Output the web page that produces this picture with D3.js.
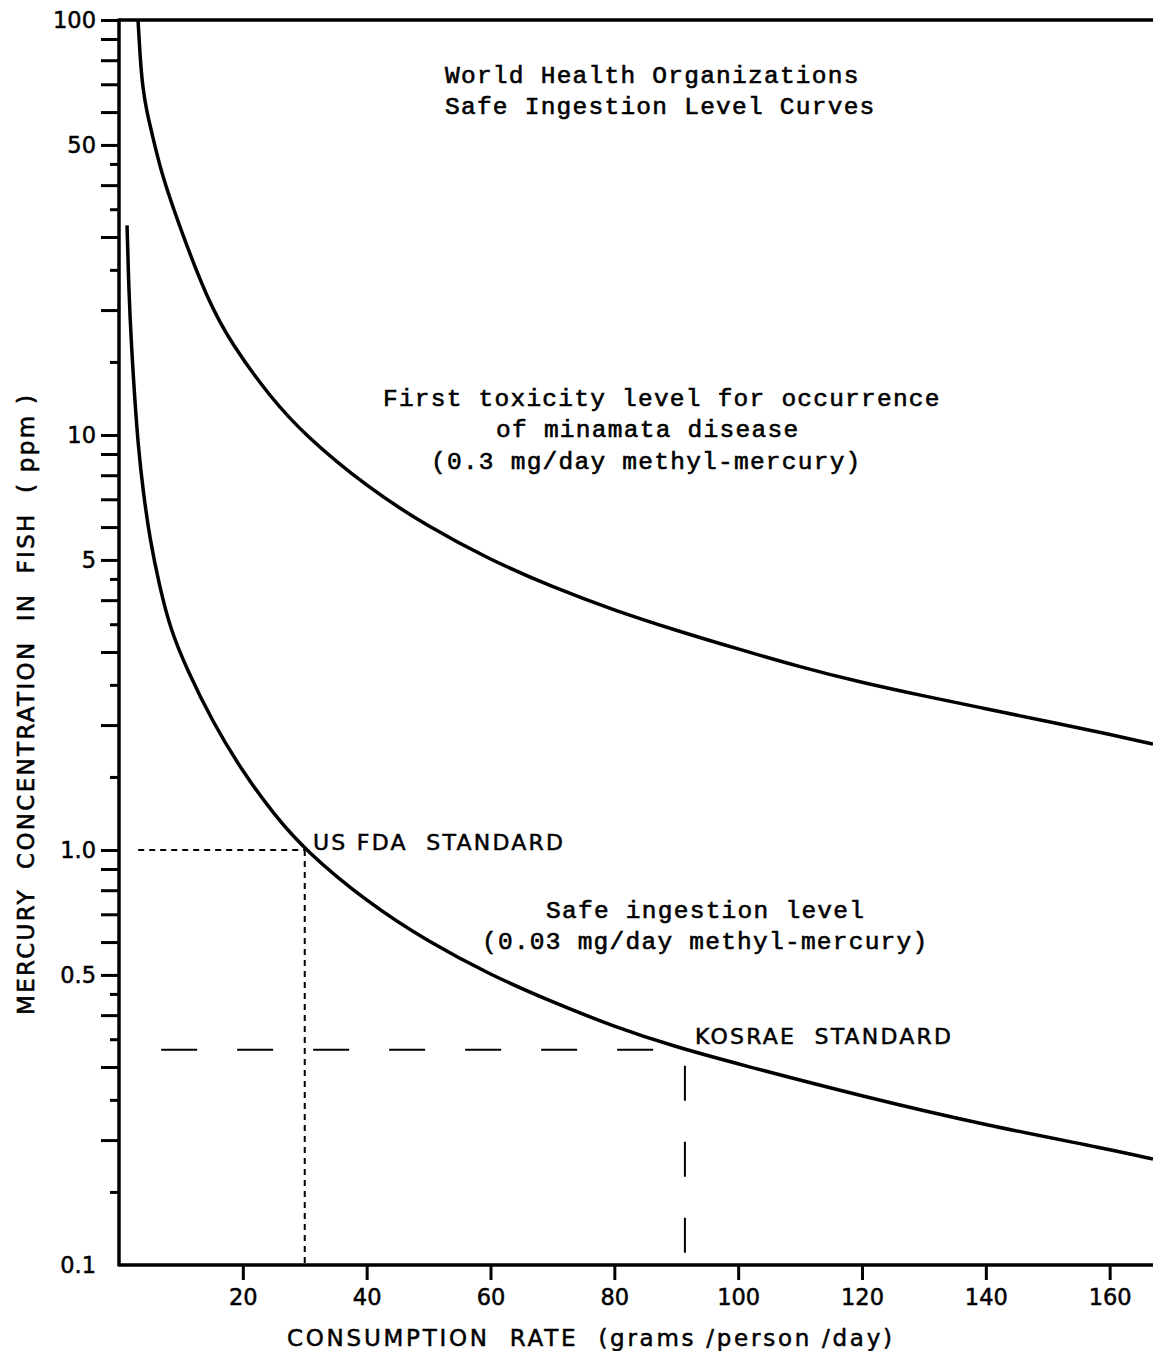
<!DOCTYPE html>
<html>
<head>
<meta charset="utf-8">
<script src="https://cdn.jsdelivr.net/npm/d3@7"></script>
<style>
  html, body { margin: 0; padding: 0; background: #fff; }
  svg { display: block; }
</style>
</head>
<body>
<svg id="chart" width="1153" height="1351"></svg>
<script>
// ---------------- DATA ----------------
// Consumption rate (grams/person/day)
const xTicks = [20, 40, 60, 80, 100, 120, 140, 160];
// Mercury concentration (ppm) — log axis
const yLabelTicks = [100, 50, 10, 5, 1.0, 0.5, 0.1];
const yLabelText = ["100", "50", "10", "5", "1.0", "0.5", "0.1"];
const yMajorTicks = [100, 90, 80, 70, 60, 50, 40, 30, 20,
                     10, 9, 8, 7, 6, 5, 4, 3, 2,
                     1, 0.9, 0.8, 0.7, 0.6, 0.5, 0.4, 0.3, 0.2];
const yMinorTicks = [45, 35, 25, 15, 4.5, 3.5, 2.5, 1.5, 0.45, 0.35, 0.25, 0.15];

// First toxicity level (0.3 mg/day methyl-mercury)
const toxRate = [3.07, 3.4, 3.8, 4.5, 5.3, 6.5, 7.7, 10.4, 14.2, 18, 24.5, 30, 40, 50, 60, 70, 80, 90, 100, 110, 120, 130, 140, 150, 160, 167];
const toxPpm  = [100, 82, 69, 60, 53.5, 45, 39.2, 30, 21.4, 16.7, 12.3, 10.0, 7.5, 6.0, 5.0, 4.3, 3.78, 3.38, 3.05, 2.76, 2.53, 2.35, 2.19, 2.04, 1.9, 1.8];

// Safe ingestion level (0.03 mg/day methyl-mercury)
const safeRate = [1.3, 1.6, 2.0, 2.5, 3.1, 3.9, 5.0, 6.5, 8.3, 11, 15, 20, 25, 30, 40, 50, 60, 70, 80, 90, 100, 120, 140, 160, 167];
const safePpm  = [32, 22, 16.5, 12.5, 9.4, 7.3, 5.6, 4.35, 3.4, 2.72, 2.05, 1.54, 1.22, 1.0, 0.75, 0.6, 0.5, 0.43, 0.375, 0.335, 0.305, 0.255, 0.217, 0.19, 0.18];

// Reference standards
const fdaStd = [30, 1.0];            // rate, ppm
const fdaFromRate = 3.1;             // start of horizontal dotted guide
const kosraeStd = [91.4, 0.33];      // rate, ppm
const kosraeHRange = [6.8, 86.3];    // horizontal dashed guide extent (rate)
const kosraeVRange = [0.302, 0.107]; // vertical dashed guide extent (ppm)

// ---------------- SCALES ----------------
const svg = d3.select("#chart");
const x = d3.scaleLinear().domain([0, 167]).range([119, 1153]);
const y = d3.scaleLog().domain([0.1, 100]).range([1265, 20]);

const sans = "'DejaVu Sans', sans-serif";
const mono = "'Liberation Mono', 'DejaVu Sans Mono', monospace";

// ---------------- GUIDES ----------------
svg.append("line")
  .attr("x1", x(fdaFromRate)).attr("x2", x(fdaStd[0]))
  .attr("y1", y(fdaStd[1])).attr("y2", y(fdaStd[1]))
  .attr("stroke", "#000").attr("stroke-width", 2).attr("stroke-dasharray", "6,5");
svg.append("line")
  .attr("x1", x(fdaStd[0])).attr("x2", x(fdaStd[0]))
  .attr("y1", y(fdaStd[1])).attr("y2", y(0.1))
  .attr("stroke", "#000").attr("stroke-width", 2).attr("stroke-dasharray", "6,5");

svg.append("line")
  .attr("x1", x(kosraeHRange[0])).attr("x2", x(kosraeHRange[1]))
  .attr("y1", y(kosraeStd[1])).attr("y2", y(kosraeStd[1]))
  .attr("stroke", "#000").attr("stroke-width", 2).attr("stroke-dasharray", "36,40");
svg.append("line")
  .attr("x1", x(kosraeStd[0])).attr("x2", x(kosraeStd[0]))
  .attr("y1", y(kosraeVRange[0])).attr("y2", y(kosraeVRange[1]))
  .attr("stroke", "#000").attr("stroke-width", 2).attr("stroke-dasharray", "35,41");

// ---------------- CURVES ----------------
const line = d3.line()
  .x(d => x(d[0])).y(d => y(d[1]))
  .curve(d3.curveBasis);

svg.append("path")
  .datum(toxRate.map((r, i) => [r, toxPpm[i]]))
  .attr("d", line).attr("fill", "none")
  .attr("stroke", "#000").attr("stroke-width", 3.5);

svg.append("path")
  .datum(safeRate.map((r, i) => [r, safePpm[i]]))
  .attr("d", line).attr("fill", "none")
  .attr("stroke", "#000").attr("stroke-width", 3.5);

// ---------------- AXES ----------------
const yMajor = svg.append("g").attr("transform", `translate(${x(0)},0)`)
  .call(d3.axisLeft(y).tickValues(yMajorTicks).tickSize(18).tickFormat(""));
const yMinor = svg.append("g").attr("transform", `translate(${x(0)},0)`)
  .call(d3.axisLeft(y).tickValues(yMinorTicks).tickSize(9).tickFormat(""));
[yMajor, yMinor].forEach(g => {
  g.select(".domain").remove();
  g.selectAll(".tick line").attr("stroke", "#000").attr("stroke-width", 3);
});

svg.append("g").selectAll("text")
  .data(yLabelTicks).join("text")
  .attr("x", 96).attr("y", d => y(d)).attr("dy", "0.36em")
  .attr("text-anchor", "end")
  .attr("font-family", sans).attr("font-size", 22.5)
  .attr("stroke", "#000").attr("stroke-width", 0.5)
  .text((d, i) => yLabelText[i]);

const xAxis = svg.append("g").attr("transform", `translate(0,${y(0.1)})`)
  .call(d3.axisBottom(x).tickValues(xTicks).tickSize(15).tickPadding(9));
xAxis.select(".domain").remove();
xAxis.selectAll(".tick line").attr("stroke", "#000").attr("stroke-width", 3);
xAxis.selectAll(".tick text").attr("font-family", sans).attr("font-size", 22.5)
  .attr("fill", "#000").attr("stroke", "#000").attr("stroke-width", 0.5);

// Frame lines
svg.append("line")
  .attr("x1", x(0)).attr("x2", x(0)).attr("y1", y(100) - 1.5).attr("y2", y(0.1) + 1.5)
  .attr("stroke", "#000").attr("stroke-width", 3.5);
svg.append("line")
  .attr("x1", x(0)).attr("x2", x(167)).attr("y1", y(0.1)).attr("y2", y(0.1))
  .attr("stroke", "#000").attr("stroke-width", 3.5);
svg.append("line")
  .attr("x1", x(0)).attr("x2", x(167)).attr("y1", y(100)).attr("y2", y(100))
  .attr("stroke", "#000").attr("stroke-width", 3.5);

// Axis titles
svg.append("text")
  .attr("x", 287).attr("y", 1346)
  .attr("font-family", sans).attr("font-size", 23)
  .attr("stroke", "#000").attr("stroke-width", 0.5)
  .attr("textLength", 605).attr("lengthAdjust", "spacing")
  .style("white-space", "pre")
  .text("CONSUMPTION  RATE  (grams /person /day)");

svg.append("text")
  .attr("transform", "translate(34,1015) rotate(-90)")
  .attr("font-family", sans).attr("font-size", 23)
  .attr("stroke", "#000").attr("stroke-width", 0.6)
  .attr("textLength", 620).attr("lengthAdjust", "spacing")
  .style("white-space", "pre")
  .text("MERCURY  CONCENTRATION  IN  FISH  ( ppm )");

// ---------------- ANNOTATIONS ----------------
const monoLabels = [
  ["World Health Organizations", 445, 83],
  ["Safe Ingestion Level Curves", 445, 114],
  ["First toxicity level for occurrence", 383, 406],
  ["of minamata disease", 496, 437],
  ["(0.3 mg/day methyl-mercury)", 431, 469],
  ["Safe ingestion level", 546, 918],
  ["(0.03 mg/day methyl-mercury)", 482, 949]
];
svg.append("g").selectAll("text").data(monoLabels).join("text")
  .attr("x", d => d[1]).attr("y", d => d[2])
  .attr("font-family", mono).attr("font-size", 24.5)
  .attr("stroke", "#000").attr("stroke-width", 0.6)
  .attr("textLength", d => d[0].length * 15.9).attr("lengthAdjust", "spacing")
  .style("white-space", "pre")
  .text(d => d[0]);

const sansLabels = [
  ["US FDA  STANDARD", 313, 850, 250],
  ["KOSRAE  STANDARD", 695, 1044, 256]
];
svg.append("g").selectAll("text").data(sansLabels).join("text")
  .attr("x", d => d[1]).attr("y", d => d[2])
  .attr("font-family", sans).attr("font-size", 22)
  .attr("stroke", "#000").attr("stroke-width", 0.5)
  .attr("textLength", d => d[3]).attr("lengthAdjust", "spacing")
  .style("white-space", "pre")
  .text(d => d[0]);
</script>
</body>
</html>
